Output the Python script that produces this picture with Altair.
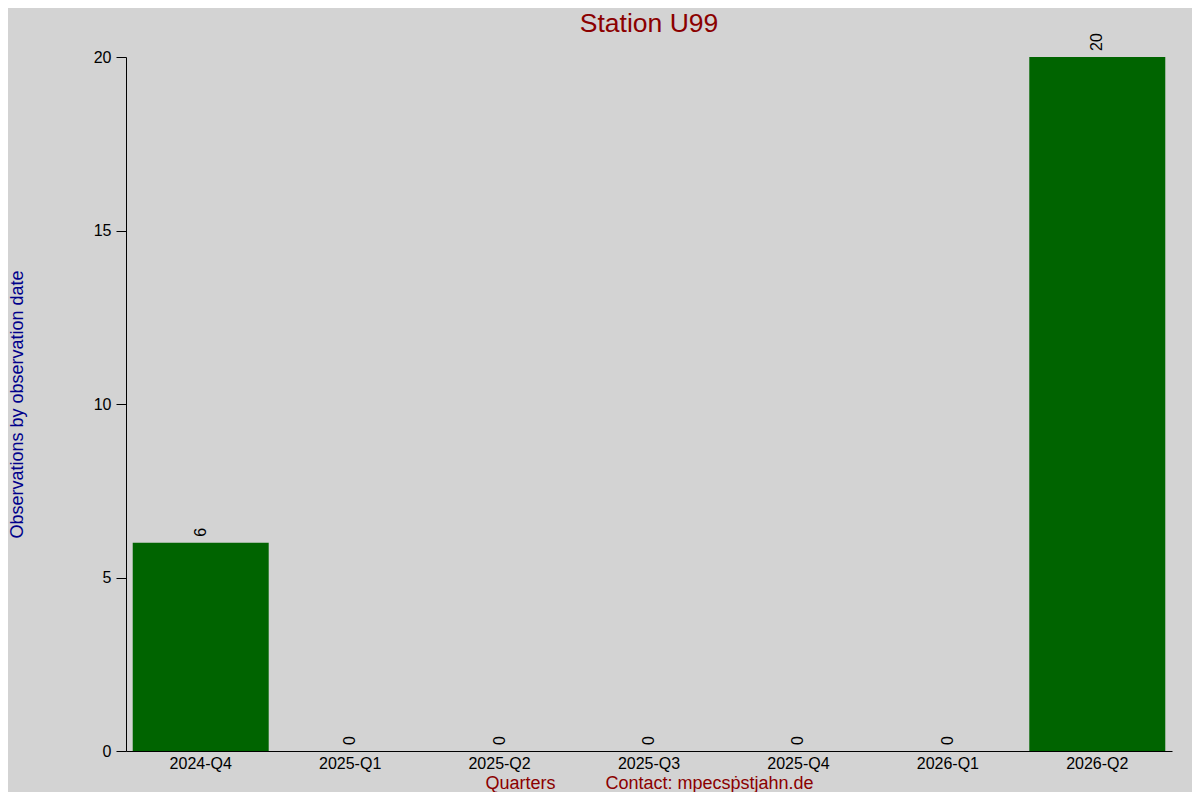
import altair as alt
import pandas as pd

quarters = ["2024-Q4", "2025-Q1", "2025-Q2", "2025-Q3", "2025-Q4", "2026-Q1", "2026-Q2"]
counts = [6, 0, 0, 0, 0, 0, 20]
y_ticks = [0, 5, 10, 15, 20]

df = pd.DataFrame({"quarter": quarters, "count": counts})

FONT = "Liberation Sans"
NB = "\u00a0"
x_title = "Quarters" + NB * 10 + "Contact: mpecs\u1e57stjahn.de"

x_enc = alt.X(
    "quarter:N",
    sort=quarters,
    scale=alt.Scale(paddingInner=0.09, paddingOuter=0.045),
    axis=alt.Axis(
        title=x_title,
        titleColor="#8b0000",
        titleFont=FONT,
        titleFontSize=18,
        titleFontWeight="normal",
        titleX=523,
        titleY=37,
        titleBaseline="alphabetic",
        titleAlign="center",
        labelAngle=0,
        labelFont=FONT,
        labelFontSize=16,
        labelColor="black",
        labelPadding=4,
        ticks=False,
        domainColor="black",
        domainWidth=1,
        grid=False,
    ),
)

y_enc = alt.Y(
    "count:Q",
    scale=alt.Scale(domain=[0, 20], nice=False),
    axis=alt.Axis(
        title="Observations by observation date",
        titleColor="#00008b",
        titleFont=FONT,
        titleFontSize=18,
        titleFontWeight="normal",
        titleAngle=270,
        titleX=-104,
        titleY=347,
        titleBaseline="alphabetic",
        titleAlign="center",
        values=y_ticks,
        labelFont=FONT,
        labelFontSize=16,
        labelColor="black",
        labelPadding=5,
        tickSize=10,
        tickColor="black",
        domainColor="black",
        grid=False,
    ),
)

bars = alt.Chart(df).mark_bar(color="#006400").encode(x=x_enc, y=y_enc)

labels = alt.Chart(df).mark_text(
    angle=270, align="left", baseline="middle", dx=6,
    font=FONT, fontSize=16, color="black",
).encode(
    x=alt.X("quarter:N", sort=quarters),
    y=alt.Y("count:Q"),
    text=alt.Text("count:Q"),
)

chart = (
    alt.layer(bars, labels)
    .properties(
        width=1046,
        height=694,
        autosize="none",
        padding={"left": 118, "top": 49, "right": 20, "bottom": 41},
        background="#d3d3d3",
        title=alt.TitleParams(
            "Station U99",
            color="#8b0000",
            font=FONT,
            fontSize=26.5,
            fontWeight="normal",
            anchor="middle",
            frame="group",
            offset=4,
            dy=29,
            baseline="alphabetic",
        ),
    )
    .configure_view(stroke=None)
)

chart.save("out.html", embed_options={"renderer": "svg", "actions": False})
